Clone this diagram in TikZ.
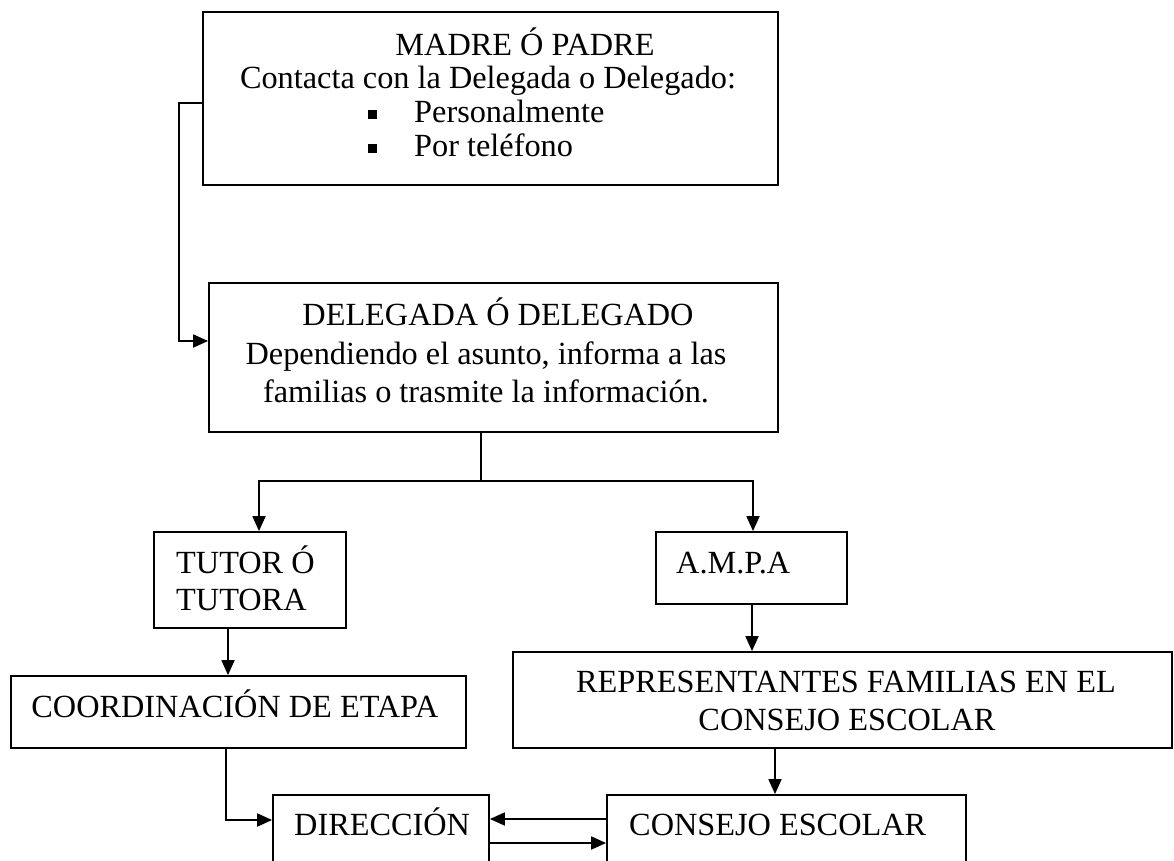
\documentclass[tikz,border=0pt]{standalone}
\usepackage{fontspec}
\setmainfont{Liberation Serif}
\usetikzlibrary{arrows.meta}
\begin{document}
\begin{tikzpicture}[x=1pt,y=-1pt,
  boxx/.style={draw, line width=1.8pt, inner sep=0pt, rectangle},
  lbl/.style={anchor=base, inner sep=0pt, font=\fontsize{32.3}{38}\selectfont},
  lblw/.style={lbl, anchor=base west},
  bul/.style={fill=black, inner sep=0pt, minimum size=9pt, rectangle},
  ln/.style={line width=1.8pt},
  arr/.style={line width=1.8pt, -{Triangle[length=15pt,width=13pt]}}]
\useasboundingbox (0,0) rectangle (1174,861);
\clip (0,0) rectangle (1174,861);
\fill[white] (0,0) rectangle (1174,861);

% boxes
\node[boxx, minimum width=575pt, minimum height=173pt] (top) at (490.5,98.5) {};
\node[boxx, minimum width=569pt, minimum height=149pt] (dele) at (493.5,357.5) {};
\node[boxx, minimum width=192pt, minimum height=96pt] (tutor) at (250,580) {};
\node[boxx, minimum width=191pt, minimum height=72pt] (ampa) at (751.5,568) {};
\node[boxx, minimum width=455pt, minimum height=72pt] (coord) at (238.5,712) {};
\node[boxx, minimum width=659pt, minimum height=96pt] (repr) at (842.5,700) {};
\node[boxx, minimum width=216pt, minimum height=90pt] (dir) at (381,840) {};
\node[boxx, minimum width=359pt, minimum height=90pt] (cons) at (786.5,840) {};

% texts
\node[lbl] (tmadre) at (525,56) {MADRE Ó PADRE};
\node[lbl] (tcont) at (488,89) {Contacta con la Delegada o Delegado:};
\node[bul] (b1) at (372,115) {};
\node[bul] (b2) at (372,149) {};
\node[lblw] (tpers) at (414,123) {Personalmente};
\node[lblw] (ttel) at (414,157) {Por teléfono};

\node[lbl] (tdele1) at (498,325) {DELEGADA Ó DELEGADO};
\node[lbl] (tdele2) at (486,364) {Dependiendo el asunto, informa a las};
\node[lbl] (tdele3) at (486,402) {familias o trasmite la información.};

\node[lblw] (ttut1) at (176,573) {TUTOR Ó};
\node[lblw] (ttut2) at (176,610) {TUTORA};
\node[lblw] (tampa) at (676,573) {A.M.P.A};
\node[lbl] (tcoord) at (235,717) {COORDINACIÓN DE ETAPA};
\node[lbl] (trepr1) at (846,692) {REPRESENTANTES FAMILIAS EN EL};
\node[lbl] (trepr2) at (847,730) {CONSEJO ESCOLAR};
\node[lblw] (tdir) at (294,835) {DIRECCIÓN};
\node[lblw] (tcons) at (629,835) {CONSEJO ESCOLAR};

% connectors
\coordinate (c1) at (179,103);
\coordinate (c2) at (179,341);
\draw[arr] (top.west |- c1) -- (c1) -- (c2) -- (dele.west |- c2);

\coordinate (j) at (481,481);
\coordinate (jl) at (259,481);
\coordinate (jr) at (753,481);
\draw[ln] (dele.south -| j) -- (j);
\draw[arr] (j) -- (jl) -- (jl |- tutor.north);
\draw[arr] (j) -- (jr) -- (jr |- ampa.north);

\coordinate (t1) at (228,0);
\draw[arr] (tutor.south -| t1) -- (coord.north -| t1);
\coordinate (a1) at (752,0);
\draw[arr] (ampa.south -| a1) -- (repr.north -| a1);
\coordinate (r1) at (775,0);
\draw[arr] (repr.south -| r1) -- (cons.north -| r1);

\coordinate (d1) at (226,820);
\draw[arr] (coord.south -| d1) -- (d1) -- (dir.west |- d1);

\coordinate (h1) at (0,819);
\coordinate (h2) at (0,843);
\draw[arr] (cons.west |- h1) -- (dir.east |- h1);
\draw[arr] (dir.east |- h2) -- (cons.west |- h2);
\end{tikzpicture}
\end{document}
